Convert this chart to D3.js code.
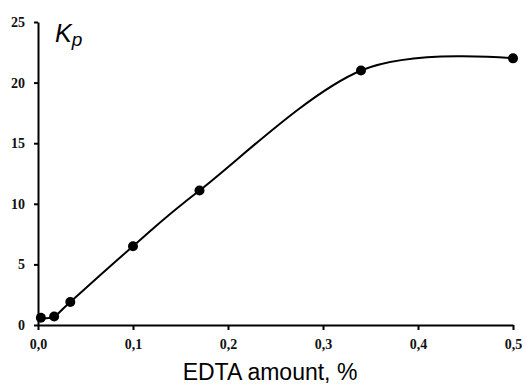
<!DOCTYPE html>
<html>
<meta charset="utf-8">
<title>Kp vs EDTA</title>
<style>
html,body{margin:0;background:#fff;}
.tick text{font-family:"Liberation Serif",serif;font-weight:bold;font-size:14px;fill:#111;}
</style>
<script src="https://d3js.org/d3.v7.min.js"></script>
<body>
<script>
// values
var edta = [0.003, 0.017, 0.034, 0.1, 0.17, 0.34, 0.5];
var kp   = [0.6, 0.7, 1.9, 6.5, 11.1, 21.0, 22.0];
var xTicks = [0, 0.1, 0.2, 0.3, 0.4, 0.5];
var yTicks = [0, 5, 10, 15, 20, 25];

var width = 525, height = 391;

var svg = d3.select("body").append("svg")
    .attr("width", width)
    .attr("height", height);

var x = d3.scaleLinear().domain([0, 0.5]).range([38, 513]);
var y = d3.scaleLinear().domain([0, 25]).range([325, 22]);

var fmt = function(d){ return d3.format(".1f")(d).replace(".", ","); };

svg.append("g")
    .attr("transform", "translate(0," + y(0) + ")")
    .call(d3.axisBottom(x).tickValues(xTicks).tickFormat(fmt).tickSize(5).tickSizeOuter(0).tickPadding(9));

svg.append("g")
    .attr("transform", "translate(" + x(0) + ",0)")
    .call(d3.axisLeft(y).tickValues(yTicks).tickSize(4).tickSizeOuter(0).tickPadding(9));

svg.selectAll(".domain").attr("stroke", "#000").attr("stroke-width", 2);
svg.selectAll(".tick line").attr("stroke", "#000").attr("stroke-width", 2);

var pts = edta.map(function(d, i){ return [d, kp[i]]; });
var px = pts.map(function(d){ return [x(d[0]), y(d[1])]; });

// spreadsheet-style smoothed line: catmull-rom tangents, end handles on the end points
var p = d3.path();
p.moveTo(px[0][0], px[0][1]);
for (var i = 0; i < px.length - 1; i++) {
  var a = px[i], b = px[i + 1];
  var prev = i > 0 ? px[i - 1] : null;
  var next = i + 2 < px.length ? px[i + 2] : null;
  var c1 = prev ? [a[0] + (b[0] - prev[0]) / 6, a[1] + (b[1] - prev[1]) / 6] : a;
  var c2 = next ? [b[0] - (next[0] - a[0]) / 6, b[1] - (next[1] - a[1]) / 6] : b;
  p.bezierCurveTo(c1[0], c1[1], c2[0], c2[1], b[0], b[1]);
}

svg.append("path")
    .attr("d", p.toString())
    .attr("fill", "none")
    .attr("stroke", "#000")
    .attr("stroke-width", 2);

svg.selectAll("circle.pt")
    .data(pts)
  .enter().append("circle")
    .attr("class", "pt")
    .attr("cx", function(d){ return x(d[0]); })
    .attr("cy", function(d){ return y(d[1]); })
    .attr("r", 5)
    .attr("fill", "#000");

// Kp label
var kl = svg.append("text")
    .attr("x", 55)
    .attr("y", 42)
    .attr("font-family", "Liberation Sans, Arial, sans-serif")
    .attr("font-style", "italic")
    .attr("font-size", 25)
    .attr("fill", "#000");
kl.append("tspan").text("K");
kl.append("tspan").attr("font-size", 19).attr("dy", 4).text("p");

svg.append("text")
    .attr("x", 270)
    .attr("y", 380)
    .attr("text-anchor", "middle")
    .attr("font-family", "Liberation Sans, Arial, sans-serif")
    .attr("font-size", 23)
    .attr("fill", "#000")
    .text("EDTA amount, %");
</script>
</body>
</html>
